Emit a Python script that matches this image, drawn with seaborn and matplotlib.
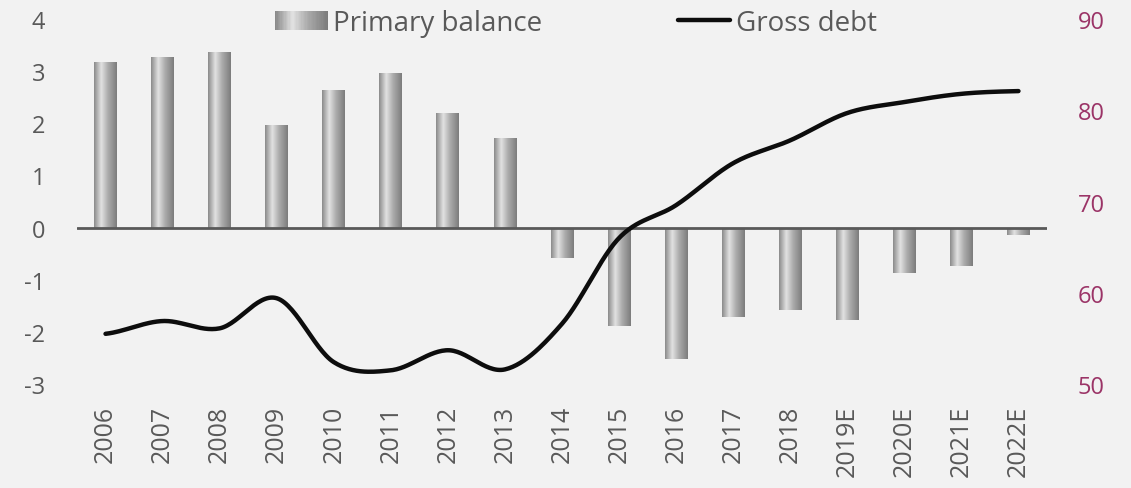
import numpy as np
import pandas as pd
import matplotlib
matplotlib.use("Agg")
import matplotlib.pyplot as plt
from matplotlib.colors import LinearSegmentedColormap
from matplotlib.legend_handler import HandlerBase
from matplotlib.patches import Rectangle
from matplotlib.lines import Line2D
import seaborn as sns

# --- data -------------------------------------------------------------
years = ["2006", "2007", "2008", "2009", "2010", "2011", "2012", "2013", "2014",
         "2015", "2016", "2017", "2018", "2019E", "2020E", "2021E", "2022E"]
primary_balance = [3.18, 3.27, 3.37, 1.97, 2.64, 2.97, 2.20, 1.72, -0.58,
                   -1.88, -2.52, -1.71, -1.59, -1.77, -0.87, -0.73, -0.14]
gross_debt = [55.5, 56.9, 56.1, 59.4, 52.4, 51.5, 53.7, 51.6, 56.6,
              66.0, 69.6, 74.2, 76.7, 79.7, 80.9, 81.8, 82.1]
left_ticks = [-3, -2, -1, 0, 1, 2, 3, 4]
right_ticks = [50, 60, 70, 80, 90]

# --- style ------------------------------------------------------------
BG = "#f2f2f2"
TEXT = "#595959"
RIGHT_COLOR = "#9b3467"
sns.set_theme(style="white")
plt.rcParams["font.family"] = ["Open Sans", "DejaVu Sans"]

metal = LinearSegmentedColormap.from_list(
    "metal", [(0.0, "#8a8a8a"), (0.32, "#e2e2e2"), (0.62, "#ababab"), (1.0, "#7c7c7c")])
grad = np.linspace(0, 1, 256).reshape(1, -1)

fig = plt.figure(figsize=(11.31, 4.89), dpi=100, facecolor=BG)
ax = fig.add_axes([77 / 1131, 1 - 385 / 489, 970 / 1131, 365 / 489])
ax.set_facecolor(BG)

df = pd.DataFrame({"year": years, "balance": primary_balance})
sns.barplot(data=df, x="year", y="balance", color="#aaaaaa", width=0.4,
            saturation=1, ax=ax, zorder=2)

# metallic horizontal gradient inside each bar
for p in ax.patches:
    x0, y0 = p.get_x(), p.get_y()
    w, h = p.get_width(), p.get_height()
    im = ax.imshow(grad, cmap=metal, aspect="auto", interpolation="bilinear",
                   extent=[x0, x0 + w, y0, y0 + h], zorder=2)
    im.set_clip_path(p)
    p.set_facecolor("none")
    p.set_edgecolor("none")

ax.set_xlim(-0.5, len(years) - 0.5)
ax.set_ylim(-3, 4)
ax.set_yticks(left_ticks)
ax.set_yticklabels([str(t) for t in left_ticks])
ax.axhline(0, color=TEXT, lw=2, zorder=3)
ax.set_xlabel("")
ax.set_ylabel("")
for s in ax.spines.values():
    s.set_visible(False)
ax.tick_params(axis="y", length=0, pad=23, labelsize=17, labelcolor=TEXT)
ax.tick_params(axis="x", length=0, pad=15, labelsize=18, labelcolor=TEXT,
               labelrotation=90)

# smoothed debt curve (cubic Bezier through the yearly points)
ax2 = ax.twinx()
pts = np.array(gross_debt, dtype=float)
xs, ys = [], []
n = len(pts)
for i in range(n - 1):
    p0 = pts[i - 1] if i > 0 else pts[i]
    p1, p2 = pts[i], pts[i + 1]
    p3 = pts[i + 2] if i + 2 < n else pts[i + 1]
    c1 = p1 + (p2 - p0) / 6
    c2 = p2 - (p3 - p1) / 6
    t = np.linspace(0, 1, 30, endpoint=(i == n - 2))
    ys.append((1 - t) ** 3 * p1 + 3 * (1 - t) ** 2 * t * c1 + 3 * (1 - t) * t ** 2 * c2 + t ** 3 * p2)
    xs.append(i + t)
curve = pd.DataFrame({"x": np.concatenate(xs), "debt": np.concatenate(ys)})
sns.lineplot(data=curve, x="x", y="debt", color="#0d0d0d", lw=3.2, ax=ax2,
             solid_capstyle="round", sort=False)
ax2.set_ylim(50, 90)
ax2.set_yticks(right_ticks)
ax2.set_yticklabels([str(t) for t in right_ticks])
ax2.set_xlim(-0.5, len(years) - 0.5)
ax2.set_ylabel("")
ax2.set_xlabel("")
for s in ax2.spines.values():
    s.set_visible(False)
ax2.tick_params(axis="y", length=0, pad=22, labelsize=17, labelcolor=RIGHT_COLOR)


class GradientHandler(HandlerBase):
    def create_artists(self, legend, orig_handle, xdescent, ydescent, width,
                       height, fontsize, trans):
        artists = []
        k = 40
        for j in range(k):
            r = Rectangle((xdescent + width * j / k, ydescent),
                          width / k + 0.3, height,
                          facecolor=metal(j / (k - 1)), edgecolor="none",
                          transform=trans)
            artists.append(r)
        return artists


bar_handle = Rectangle((0, 0), 1, 1)
line_handle = Line2D([], [], color="#0d0d0d", lw=3.2, solid_capstyle="round")
fig.legend([bar_handle, line_handle], ["Primary balance", "Gross debt"],
           handler_map={Rectangle: GradientHandler()},
           loc="center", bbox_to_anchor=(576 / 1131, 1 - 24 / 489),
           ncol=2, frameon=False, fontsize=20, labelcolor=TEXT,
           handlelength=1.9, handletextpad=0.2, columnspacing=4.86,
           handleheight=0.7)

fig.savefig("out.png", dpi=100, facecolor=BG)
